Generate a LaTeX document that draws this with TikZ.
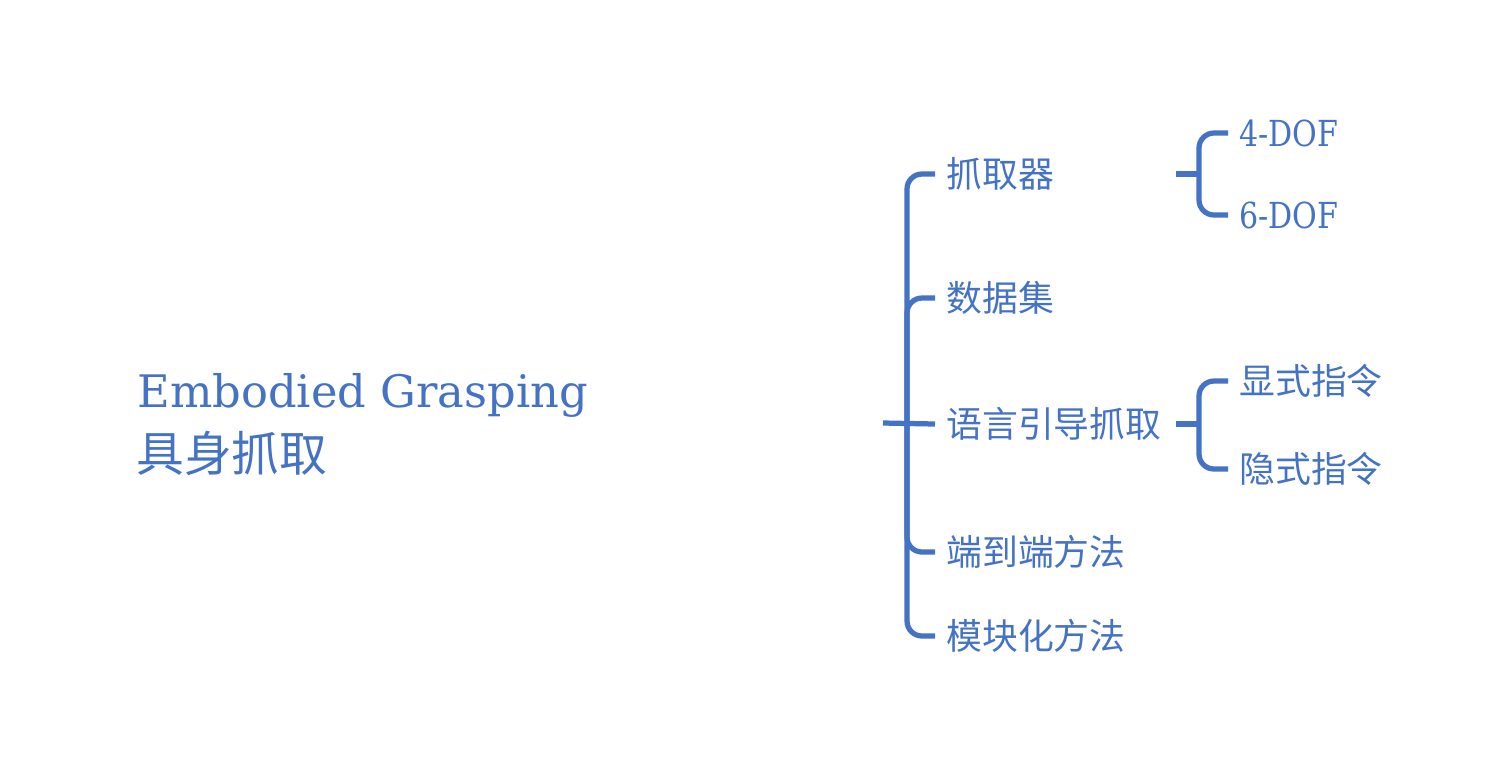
\documentclass[tikz,border=0pt]{standalone}
\usepackage{fontspec}
\usepackage{tikz}
\setmainfont{DejaVu Serif}
\newfontfamily\cjk{Noto Sans CJK SC}
\newfontfamily\narrowserif[FakeStretch=0.84]{DejaVu Serif}
\definecolor{mapblue}{RGB}{68,114,196}

\begin{document}
\begin{tikzpicture}[x=0.02cm, y=-0.02cm, mapblue,
        branch/.style={draw=mapblue, line width=0.105cm, rounded corners=0.3cm},
        topic/.style={anchor=west, inner xsep=0.22cm, inner ysep=0pt, font=\cjk\fontsize{20.4pt}{24pt}\selectfont},
        leaf/.style={anchor=west, inner xsep=0.22cm, inner ysep=0pt, font=\narrowserif\fontsize{20.4pt}{24pt}\selectfont}]
        \useasboundingbox (0,0) rectangle (1496,772);
        \node [anchor=base west, inner sep=0pt, font=\fontsize{25.5pt}{30pt}\selectfont] (title) at (137,407) {Embodied Grasping};
        \node [anchor=west, inner sep=0pt, font=\cjk\fontsize{27.2pt}{32pt}\selectfont] (titlecn) at (136,453) {具身抓取};
        \coordinate (root) at (883,423);
        \coordinate (hub) at (907,423);
        \node [topic] (gripper) at (935,174) {抓取器};
        \node [topic] (dataset) at (935,298) {数据集};
        \node [topic] (langgrasp) at (935,424) {语言引导抓取};
        \node [topic] (endtoend) at (935,552) {端到端方法};
        \node [topic] (modular) at (935,636) {模块化方法};
        \draw [branch] (root) -- (langgrasp.west);
        \foreach \n in {gripper, dataset, endtoend, modular}
            \draw [branch] (hub) |- (\n.west);
        \coordinate (gripperfork) at (1176,174);
        \coordinate (gripperhub) at (1199,174);
        \node [leaf] (dofa) at (1228,133) {4-DOF};
        \node [leaf] (dofb) at (1228,215) {6-DOF};
        \draw [branch] (gripperfork) -- (gripperhub);
        \foreach \n in {dofa, dofb}
            \draw [branch] (gripperhub) |- (\n.west);
        \coordinate (langfork) at (1176,424);
        \coordinate (langhub) at (1199,424);
        \node [topic] (explicit) at (1228,381) {显式指令};
        \node [topic] (implicit) at (1228,469) {隐式指令};
        \draw [branch] (langfork) -- (langhub);
        \foreach \n in {explicit, implicit}
            \draw [branch] (langhub) |- (\n.west);
    \end{tikzpicture}
\end{document}
